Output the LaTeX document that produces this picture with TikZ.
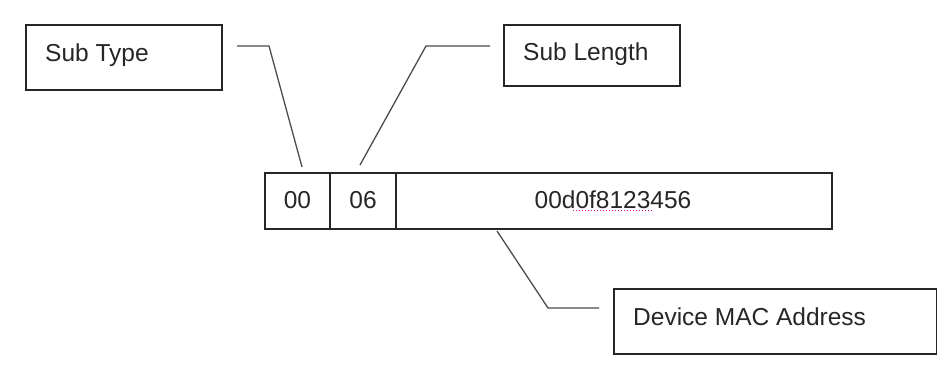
\documentclass[tikz,border=0pt]{standalone}
\usepackage{fontspec}
\setmainfont{Liberation Sans}
\begin{document}
\begin{tikzpicture}[x=1pt,y=-1pt,
  box/.style={draw=black!85,line width=1.6pt,rectangle,inner sep=0pt,anchor=north west},
  lbl/.style={inner sep=0pt,anchor=base west,font=\fontsize{24.5}{29}\selectfont,text=black!85},
  cell/.style={inner sep=0pt,anchor=base,font=\fontsize{24.5}{29}\selectfont,text=black!85},
  conn/.style={draw=black!70,line width=1.3pt,line join=miter}]
\useasboundingbox (0,0) rectangle (937,365);
% label boxes
\node[box,minimum width=196pt,minimum height=65pt] (stbox) at (25,24) {};
\node[lbl] (sttext) at (45,61) {Sub Type};
\node[box,minimum width=176pt,minimum height=61pt] (slbox) at (503,24) {};
\node[lbl] (sltext) at (523,60) {Sub Length};
\node[box,minimum width=323pt,minimum height=65pt] (mabox) at (613,288) {};
\node[lbl] (matext) at (633,325) {Device MAC Address};
% field bar
\node[box,minimum width=65pt,minimum height=56pt] (c1) at (264,172) {};
\node[box,minimum width=66pt,minimum height=56pt] (c2) at (329,172) {};
\node[box,minimum width=436pt,minimum height=56pt] (c3) at (395,172) {};
\node[cell] (t1) at (297.5,208) {00};
\node[cell] (t2) at (363,208) {06};
\node[cell] (t3) at (613,208) {00d0f8123456};
\draw[magenta,line width=1pt,dotted] (573,210.5) -- (652,210.5);
% connector ends
\coordinate (a1) at (237,46);
\coordinate (a2) at (269,46);
\coordinate (a3) at (302,167);
\coordinate (b1) at (360,165);
\coordinate (b2) at (426,46);
\coordinate (b3) at (490,46);
\coordinate (m1) at (497,231);
\coordinate (m2) at (548,308);
\coordinate (m3) at (599,308);
\draw[conn] (a1) -- (a2) -- (a3);
\draw[conn] (b1) -- (b2) -- (b3);
\draw[conn] (m1) -- (m2) -- (m3);
\end{tikzpicture}
\end{document}
